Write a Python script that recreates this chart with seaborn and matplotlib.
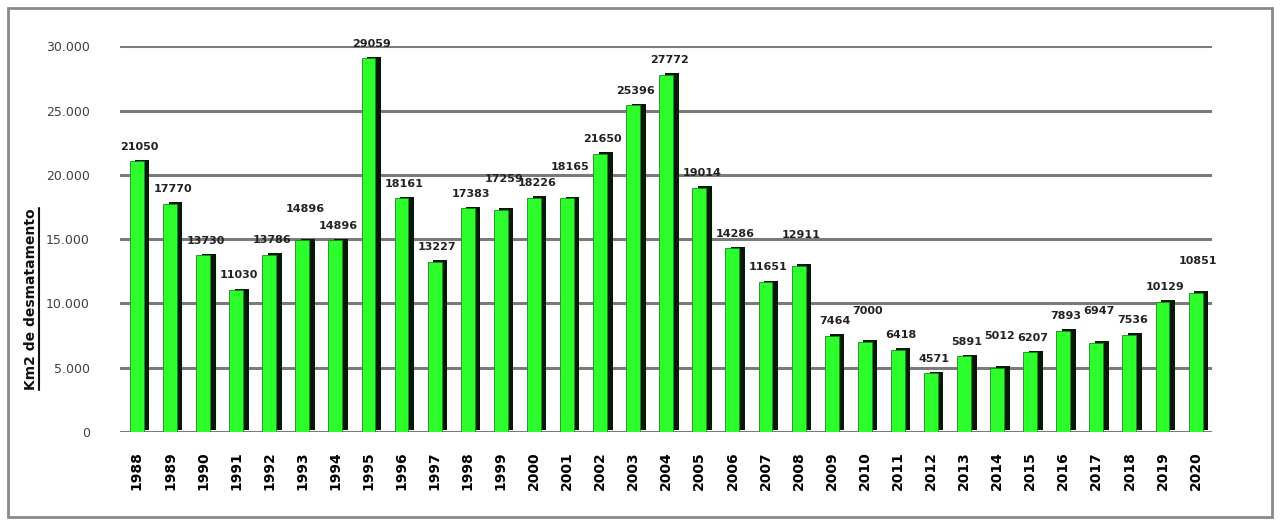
import matplotlib
matplotlib.use("Agg")
import matplotlib.pyplot as plt
import matplotlib.patheffects as pe
from matplotlib.patches import Rectangle
from matplotlib.lines import Line2D
import seaborn as sns

# Data
years = [str(y) for y in range(1988, 2021)]
area_km2 = [21050, 17770, 13730, 11030, 13786, 14896, 14896, 29059, 18161, 13227,
            17383, 17259, 18226, 18165, 21650, 25396, 27772, 19014, 14286, 11651,
            12911, 7464, 7000, 6418, 4571, 5891, 5012, 6207, 7893, 6947,
            7536, 10129, 10851]
y_ticks = [0, 5000, 10000, 15000, 20000, 25000, 30000]
y_tick_labels = ["0", "5.000", "10.000", "15.000", "20.000", "25.000", "30.000"]

sns.set_style("white")
plt.rcParams["font.family"] = ["DejaVu Sans"]

fig = plt.figure(figsize=(12.8, 5.25), dpi=100)
ax = fig.add_axes([0.094, 0.177, 0.853, 0.735])

# gridlines first so bars sit on top
for t in y_ticks:
    ax.axhline(t, color="#7a7a7a", linewidth=2.2, zorder=0)

sns.barplot(x=years, y=area_km2, color="#2dfc2d", width=0.42, ax=ax,
            saturation=1, edgecolor="#1a8a1a", linewidth=0.6, zorder=3)

# pseudo-3D dark side on each bar
for patch in ax.patches:
    patch.set_path_effects([
        pe.SimplePatchShadow(offset=(4, 1.2), shadow_rgbFace="#061806", alpha=1),
        pe.Normal(),
    ])

# value labels, raise one of two neighbours when they would collide
raised = False
for i, patch in enumerate(ax.patches):
    up = 7
    if i > 0 and abs(area_km2[i] - area_km2[i - 1]) < 1300 and not raised:
        up = 19
        raised = True
    else:
        raised = False
    ax.annotate(str(area_km2[i]), (patch.get_x() + patch.get_width() / 2, patch.get_height()),
                xytext=(2, up), textcoords="offset points", ha="center", va="bottom",
                fontsize=8, fontweight="bold", color="#222222", annotation_clip=False)

ax.set_ylim(0, 30000)
ax.set_xlim(-0.5, len(years) - 0.5)
ax.set_yticks(y_ticks)
ax.set_yticklabels(y_tick_labels, fontsize=9, color="#404040")
ax.tick_params(axis="y", length=0, pad=22)
ax.tick_params(axis="x", length=0, pad=14)
plt.setp(ax.get_xticklabels(), rotation=90, fontsize=10, fontweight="bold", color="#000000")
ax.set_xlabel("")
ax.set_ylabel("")
for s in ax.spines.values():
    s.set_visible(False)

ylab = fig.text(0.024, 0.43, "Km2 de desmatamento", rotation=90,
                ha="center", va="center", fontsize=10, fontweight="bold", color="#111111")

# underline the rotated label (line to its right side)
fig.canvas.draw()
bb = ylab.get_window_extent().transformed(fig.transFigure.inverted())
fig.lines.append(Line2D([bb.x1 + 0.001, bb.x1 + 0.001], [bb.y0, bb.y1],
                        transform=fig.transFigure, color="#111111", linewidth=1.5))

# outer frame
fig.patches.append(Rectangle((0.006, 0.015), 0.988, 0.97, transform=fig.transFigure,
                             fill=False, edgecolor="#8a8a8a", linewidth=2))

fig.savefig("out.png", dpi=100)
